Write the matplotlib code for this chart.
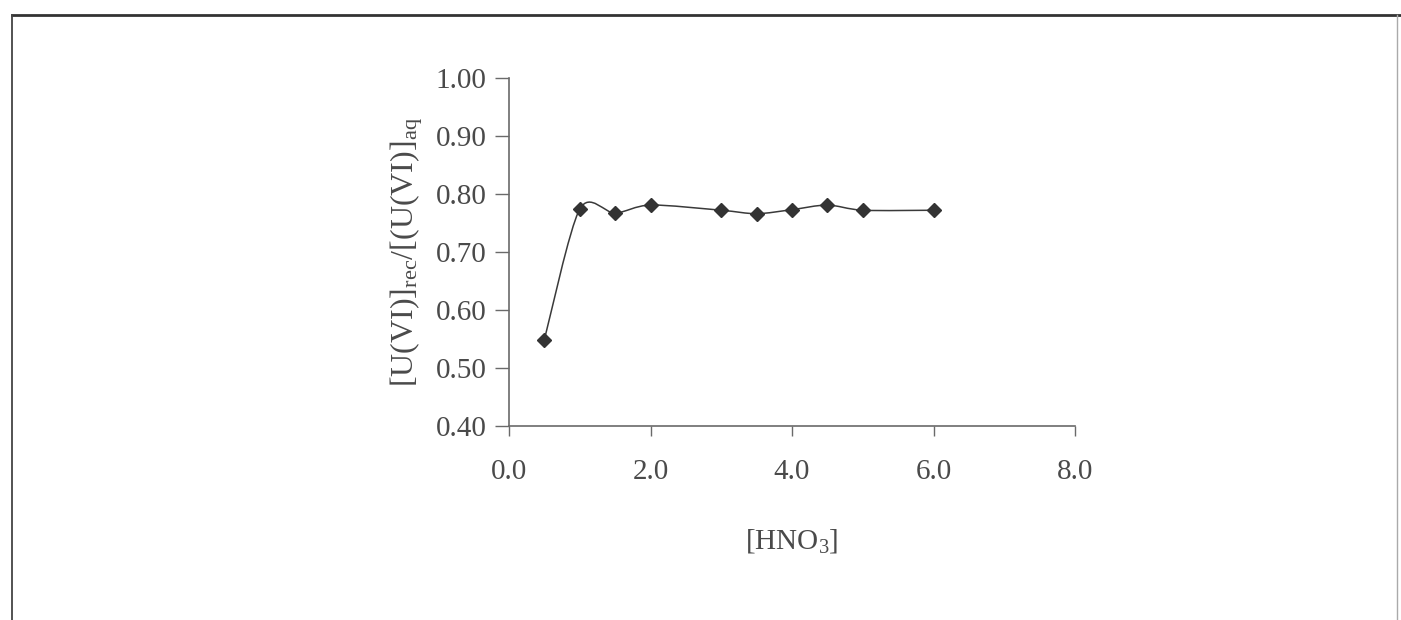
import numpy as np
import matplotlib
matplotlib.use('Agg')
import matplotlib.pyplot as plt
from matplotlib.path import Path
from matplotlib.patches import PathPatch
from matplotlib.lines import Line2D

# data
hno3 = [0.5, 1.0, 1.5, 2.0, 3.0, 3.5, 4.0, 4.5, 5.0, 6.0]
ratio = [0.549, 0.774, 0.767, 0.781, 0.772, 0.766, 0.773, 0.781, 0.772, 0.772]
x_ticks = [0.0, 2.0, 4.0, 6.0, 8.0]
y_ticks = [0.40, 0.50, 0.60, 0.70, 0.80, 0.90, 1.00]

plt.rcParams['font.family'] = ['Liberation Serif', 'DejaVu Serif']
plt.rcParams['mathtext.fontset'] = 'custom'
plt.rcParams['mathtext.rm'] = 'Liberation Serif'
plt.rcParams['mathtext.it'] = 'Liberation Serif:italic'

txt_col = '#4a4a4a'
ax_col = '#6a6a6a'

fig = plt.figure(figsize=(14.01, 6.2), dpi=100)
ax = fig.add_axes([509/1401, (620-426)/620, (1075-509)/1401, (426-78)/620])

# smoothed line like the spreadsheet's "smooth line" (cardinal bezier through the points)
x = np.array(hno3)
y = np.array(ratio)
verts = [(x[0], y[0])]
codes = [Path.MOVETO]
n = len(x)
k = 1.0 / 7.0
for i in range(n - 1):
  p0 = np.array([x[max(i-1, 0)], y[max(i-1, 0)]])
  p1 = np.array([x[i], y[i]])
  p2 = np.array([x[i+1], y[i+1]])
  p3 = np.array([x[min(i+2, n-1)], y[min(i+2, n-1)]])
  c1 = p1 + (p2 - p0) * k
  c2 = p2 - (p3 - p1) * k
  verts += [tuple(c1), tuple(c2), tuple(p2)]
  codes += [Path.CURVE4] * 3
ax.add_patch(PathPatch(Path(verts, codes), facecolor='none', edgecolor='#3a3a3a', lw=1.1))

ax.plot(hno3, ratio, linestyle='none', marker='D', markersize=7.5,
        color='#333333', markeredgecolor='#333333')

ax.set_xlim(0, 8)
ax.set_ylim(0.4, 1.0)
ax.set_xticks(x_ticks)
ax.set_xticklabels(['%.1f' % v for v in x_ticks])
ax.set_yticks(y_ticks)
ax.set_yticklabels(['%.2f' % v for v in y_ticks])

for s in ['top', 'right']:
  ax.spines[s].set_visible(False)
for s in ['left', 'bottom']:
  ax.spines[s].set_color(ax_col)
  ax.spines[s].set_linewidth(1.2)

ax.tick_params(axis='y', direction='out', length=10, width=1.0, color=ax_col,
               labelsize=21, labelcolor=txt_col, pad=6)
ax.tick_params(axis='x', direction='out', length=7, width=1.0, color=ax_col,
               labelsize=21, labelcolor=txt_col, pad=17)

ax.set_xlabel(r'[HNO$_3$]', fontsize=21, color=txt_col, labelpad=30)
ax.set_ylabel(r'[U(VI)]$_{\rm rec}$/[(U(VI)]$_{\rm aq}$', fontsize=23, color=txt_col, labelpad=8)

# outer frame of the scanned chart area
fig.add_artist(Line2D([12/1401, 1401/1401], [1-15/620, 1-15/620], transform=fig.transFigure,
                      color='#333333', lw=2.0))
fig.add_artist(Line2D([12/1401, 12/1401], [1-15/620, 0], transform=fig.transFigure,
                      color='#444444', lw=1.3))
fig.add_artist(Line2D([1397/1401, 1397/1401], [1-15/620, 0], transform=fig.transFigure,
                      color='#aaaaaa', lw=1.0))

fig.savefig('out.png', dpi=100)
